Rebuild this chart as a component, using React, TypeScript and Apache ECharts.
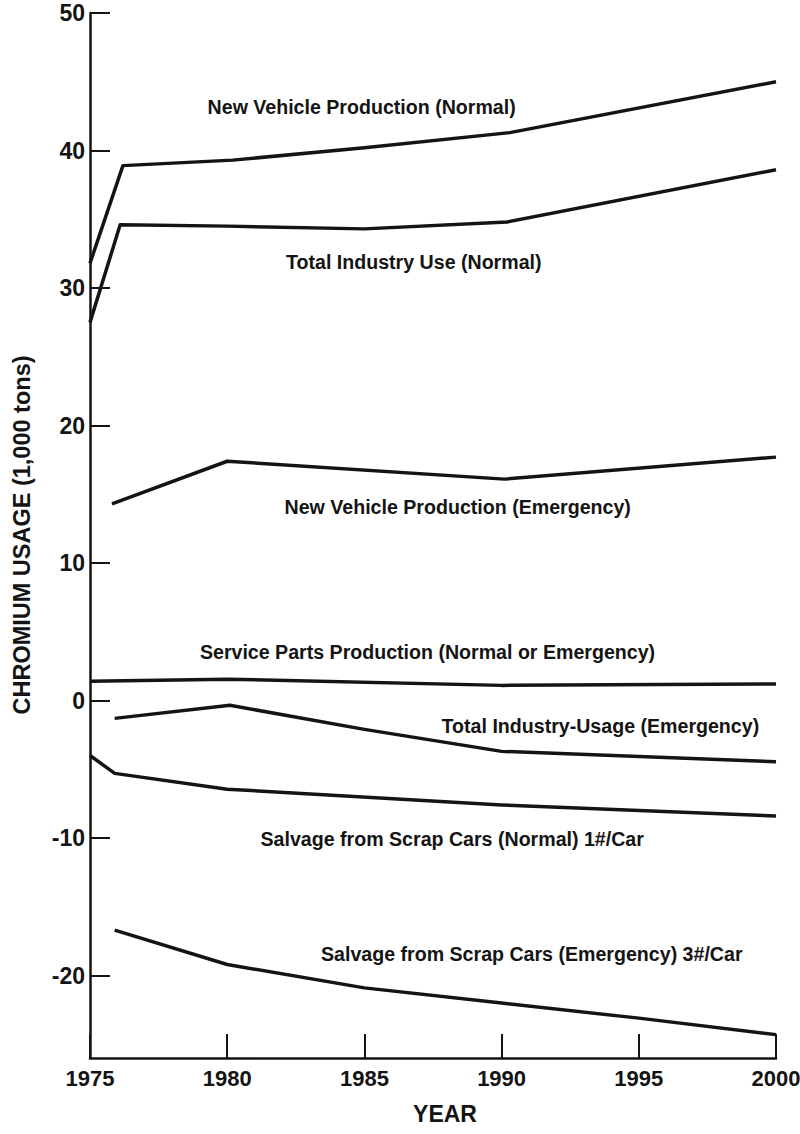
import React, { useEffect, useRef } from "react";
import * as echarts from "echarts";

// ---- data ----
const nvpNormalYears = [1975, 1976.2, 1980.2, 1985, 1990.3, 2000];
const nvpNormalValues = [31.8, 38.9, 39.3, 40.2, 41.3, 45.0];

const tiuNormalYears = [1975, 1976.1, 1980, 1985, 1990.2, 2000];
const tiuNormalValues = [27.5, 34.6, 34.5, 34.3, 34.8, 38.6];

const nvpEmergencyYears = [1975.8, 1980, 1990.1, 2000];
const nvpEmergencyValues = [14.3, 17.4, 16.1, 17.7];

const serviceYears = [1975, 1980, 1990, 2000];
const serviceValues = [1.4, 1.55, 1.1, 1.2];

const tiuEmergencyYears = [1975.9, 1980.1, 1985, 1990, 2000];
const tiuEmergencyValues = [-1.3, -0.35, -2.1, -3.7, -4.45];

const salvageNormalYears = [1975, 1975.9, 1980, 1990, 2000];
const salvageNormalValues = [-4.0, -5.3, -6.45, -7.6, -8.4];

const salvageEmergencyYears = [1975.9, 1980, 1985, 1990, 1995, 2000];
const salvageEmergencyValues = [-16.7, -19.2, -20.9, -22.0, -23.1, -24.3];

const yTickValues = [-20, -10, 0, 10, 20, 30, 40, 50];

const labelTexts = [
  "New Vehicle Production (Normal)",
  "Total Industry Use (Normal)",
  "New Vehicle Production (Emergency)",
  "Service Parts Production (Normal or Emergency)",
  "Total Industry-Usage (Emergency)",
  "Salvage from Scrap Cars (Normal) 1#/Car",
  "Salvage from Scrap Cars (Emergency) 3#/Car",
];
const labelYears = [1984.9, 1986.8, 1988.4, 1987.3, 1993.6, 1988.2, 1991.1];
const labelValues = [43.2, 31.9, 14.1, 3.5, -1.85, -10.1, -18.4];

const FONT = '"Liberation Sans", Arial, Helvetica, sans-serif';
const INK = "#141414";

const zip = (xs: number[], ys: number[]) => xs.map((x, i) => [x, ys[i]]);

const seriesDefs = [
  { name: "New Vehicle Production (Normal)", xs: nvpNormalYears, ys: nvpNormalValues },
  { name: "Total Industry Use (Normal)", xs: tiuNormalYears, ys: tiuNormalValues },
  { name: "New Vehicle Production (Emergency)", xs: nvpEmergencyYears, ys: nvpEmergencyValues },
  { name: "Service Parts Production", xs: serviceYears, ys: serviceValues },
  { name: "Total Industry Usage (Emergency)", xs: tiuEmergencyYears, ys: tiuEmergencyValues },
  { name: "Salvage (Normal)", xs: salvageNormalYears, ys: salvageNormalValues },
  { name: "Salvage (Emergency)", xs: salvageEmergencyYears, ys: salvageEmergencyValues },
];

export default function App() {
  const ref = useRef<HTMLDivElement>(null);

  useEffect(() => {
    document.body.style.margin = "0";
    if (!ref.current) return;
    const chart = echarts.init(ref.current, null, { renderer: "svg" });
    const option: any = {
      animation: false,
      backgroundColor: "#ffffff",
      grid: {
        left: 90,
        right: 24,
        top: 13,
        bottom: 76,
        containLabel: false,
        outerBoundsMode: "none",
      },
      xAxis: {
        type: "value",
        min: 1975,
        max: 2000,
        interval: 5,
        name: "YEAR",
        nameLocation: "middle",
        nameGap: 44,
        nameTextStyle: {
          fontFamily: FONT,
          fontWeight: "bold",
          fontSize: 23,
          color: INK,
          padding: [0, 0, 0, 24],
        },
        axisLine: { show: true, onZero: false, lineStyle: { color: INK, width: 2.5 } },
        axisTick: { show: true, inside: true, length: 24, lineStyle: { color: INK, width: 2 } },
        axisLabel: {
          fontFamily: FONT,
          fontWeight: "bold",
          fontSize: 22,
          color: INK,
          margin: 9,
          showMinLabel: true,
          showMaxLabel: true,
          formatter: (v: number) => String(v),
        },
        splitLine: { show: false },
      },
      yAxis: {
        type: "value",
        min: -26,
        max: 50,
        axisLine: { show: true, onZero: false, lineStyle: { color: INK, width: 2.5 } },
        axisTick: {
          show: true,
          inside: true,
          length: 20,
          customValues: yTickValues,
          lineStyle: { color: INK, width: 2 },
        },
        axisLabel: {
          customValues: yTickValues,
          fontFamily: FONT,
          fontWeight: "bold",
          fontSize: 23,
          color: INK,
          margin: 5,
        },
        splitLine: { show: false },
      },
      series: seriesDefs.map((s) => ({
        type: "line",
        name: s.name,
        data: zip(s.xs, s.ys),
        showSymbol: false,
        symbol: "none",
        lineStyle: { color: INK, width: 3.5, join: "round" },
        silent: true,
      })),
    };
    chart.setOption(option);

    const graphics: any[] = labelTexts.map((t, i) => {
      const p = chart.convertToPixel({ gridIndex: 0 }, [labelYears[i], labelValues[i]]) as number[];
      return {
        type: "text",
        x: p[0],
        y: p[1],
        style: {
          text: t,
          fill: INK,
          font: `bold 19.6px ${FONT}`,
          align: "center",
          verticalAlign: "middle",
        },
      };
    });
    graphics.push({
      type: "text",
      x: 22,
      y: 535,
      rotation: Math.PI / 2,
      style: {
        text: "CHROMIUM USAGE (1,000 tons)",
        fill: INK,
        font: `bold 23.5px ${FONT}`,
        align: "center",
        verticalAlign: "middle",
      },
    });
    chart.setOption({ graphic: graphics });

    return () => chart.dispose();
  }, []);

  return <div ref={ref} style={{ width: 800, height: 1134 }} />;
}
